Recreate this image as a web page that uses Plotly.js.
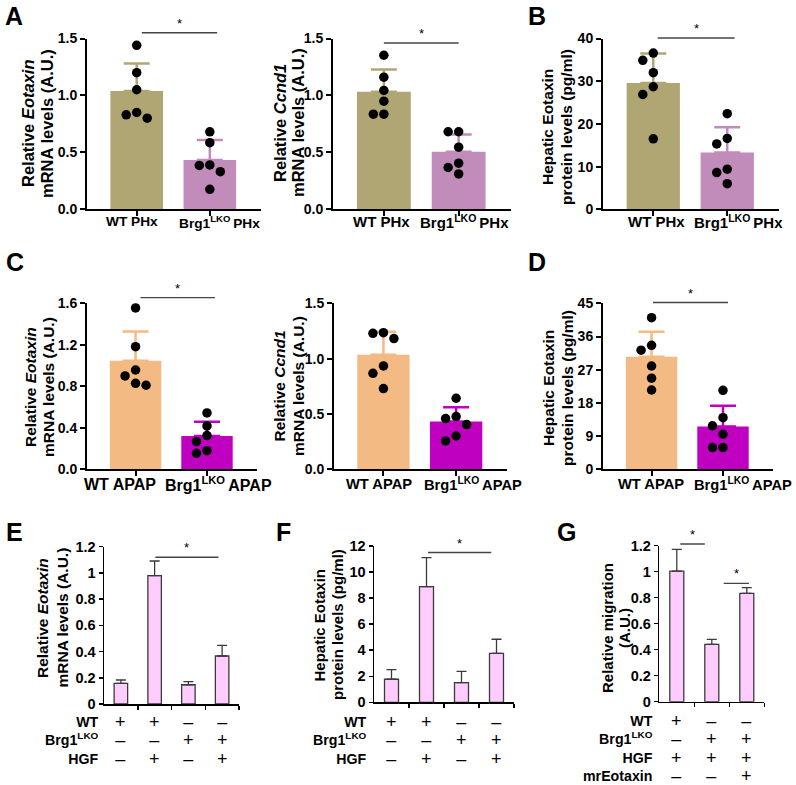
<!DOCTYPE html>
<html>
<head>
<meta charset="utf-8">
<script src="https://cdn.plot.ly/plotly-3.0.1.min.js"></script>
<style>html,body{margin:0;padding:0;background:#fff}#chart{width:796px;height:785px}</style>
</head>
<body>
<div id="chart"></div>
<script>
// ---------------- DATA ----------------
const phxGroups  = ['WT PHx', 'Brg1<sup>LKO</sup>\u2009PHx'];
const apapGroups = ['WT APAP', 'Brg1<sup>LKO</sup>\u2009APAP'];

// A (left) Relative Eotaxin, PHx
const A1_wt = [1.44, 1.20, 1.05, 0.85, 0.80, 0.83];
const A1_ko = [0.68, 0.585, 0.385, 0.39, 0.33, 0.175];
const A1_mean = [1.04, 0.433];
const A1_err  = [0.24, 0.175];
// A (middle) Relative Ccnd1, PHx
const A2_wt = [1.353, 1.16, 1.044, 0.95, 0.835, 0.835];
const A2_ko = [0.681, 0.681, 0.546, 0.405, 0.367, 0.311];
const A2_mean = [1.033, 0.505];
const A2_err  = [0.194, 0.152];
// B Hepatic Eotaxin protein, PHx
const B_wt = [36.6, 34.9, 32.0, 28.7, 26.9, 16.5];
const B_ko = [22.4, 15.3, 16.6, 9.4, 8.6, 6.0];
const B_mean = [29.6, 13.3];
const B_err  = [6.9, 5.9];
// C (left) Relative Eotaxin, APAP
const C1_wt = [1.555, 1.182, 0.957, 0.90, 0.81, 0.829];
const C1_ko = [0.543, 0.418, 0.325, 0.267, 0.18, 0.154];
const C1_mean = [1.047, 0.321];
const C1_err  = [0.28, 0.138];
// C (middle) Relative Ccnd1, APAP
const C2_wt = [1.235, 1.229, 1.181, 0.934, 0.867, 0.729];
const C2_ko = [0.642, 0.458, 0.476, 0.404, 0.301, 0.256];
const C2_mean = [1.036, 0.431];
const C2_err  = [0.208, 0.129];
// D Hepatic Eotaxin protein, APAP
const D_wt = [41.1, 33.6, 32.3, 28.0, 24.7, 21.5];
const D_ko = [21.4, 14.0, 11.8, 9.5, 5.9, 5.9];
const D_mean = [30.5, 11.6];
const D_err  = [6.8, 5.6];
// E Relative Eotaxin mRNA (in vitro)
const E_mean = [0.158, 0.979, 0.147, 0.366];
const E_err  = [0.025, 0.112, 0.023, 0.081];
// F Hepatic Eotaxin protein (in vitro)
const F_mean = [1.77, 8.88, 1.51, 3.76];
const F_err  = [0.74, 2.22, 0.87, 1.08];
// G Relative migration
const G_mean = [1.005, 0.441, 0.833];
const G_err  = [0.167, 0.038, 0.044];

// condition rows (tick-label tables)
const EF_rowLabels = ['WT', 'Brg1<sup>LKO</sup>', 'HGF'];
const EF_WT  = ['+', '+', '–', '–'];
const EF_KO  = ['–', '–', '+', '+'];
const EF_HGF = ['–', '+', '–', '+'];
const G_rowLabels = ['WT', 'Brg1<sup>LKO</sup>', 'HGF', 'mrEotaxin'];
const G_WT  = ['+', '–', '–'];
const G_KO  = ['–', '+', '+'];
const G_HGF = ['+', '+', '+'];
const G_mrE = ['–', '–', '+'];

// axis titles (one entry per line)
const titleEotaxin = ['Relative <i>Eotaxin</i>', 'mRNA levels (A.U.)'];
const titleCcnd1   = ['Relative <i>Ccnd1</i>', 'mRNA levels (A.U.)'];
const titleProtein = ['Hepatic Eotaxin', 'protein levels (pg/ml)'];
const titleMigr    = ['Relative migration', '(A.U.)'];

// significance brackets [x0, x1, y] in data units
const A1_sig = [[0.07, 1.10, 1.55]];
const A2_sig = [[0.0, 1.0, 1.46]];
const B_sig  = [[0.06, 1.10, 40.1]];
const C1_sig = [[0.07, 1.11, 1.655]];
const C2_sig = [];
const D_sig  = [[0.02, 1.07, 45.2]];
const E_sig  = [[1.02, 2.89, 1.119]];
const F_sig  = [[1.04, 2.85, 11.5]];
const G_sig  = [[0.10, 0.80, 1.213], [1.34, 2.06, 0.91]];

const panelLetters = ['A', 'B', 'C', 'D', 'E', 'F', 'G'];

// ---------------- STYLE / LAYOUT ----------------
const W = 796, H = 785;
const FONT = 'Liberation Sans, Arial, Helvetica, sans-serif';
const OLIVE = '#B0A673', MAUVE = '#C18BBA', ORANGE = '#F4BA83', MAGENTA = '#C000C0', PINK = '#FFCCFF';

const px = x => x / W;
const py = y => 1 - y / H;

const dotPanels = [
  {n:1, box:[87,261,38.5,209.3],  yr:[0,1.5], dtick:0.5, fmt:'.1f', cats:phxGroups,  col:[OLIVE,MAUVE],  pts:[A1_wt,A1_ko], mean:A1_mean, err:A1_err, sig:A1_sig,
   title:titleEotaxin, tx:[28,47], ty:124, tsize:16.5, lab:{x:[132,219.7], y:222, size:13.7}},
  {n:2, box:[333,511,38.5,209.3], yr:[0,1.5], dtick:0.5, fmt:'.1f', cats:phxGroups,  col:[OLIVE,MAUVE],  pts:[A2_wt,A2_ko], mean:A2_mean, err:A2_err, sig:A2_sig,
   title:titleCcnd1, tx:[280,298], ty:123, tsize:16.5, lab:{x:[381.5,465], y:222, size:15}},
  {n:3, box:[603,779,38.5,209.3], yr:[0,40], dtick:10, fmt:'d', cats:phxGroups,  col:[OLIVE,MAUVE],  pts:[B_wt,B_ko], mean:B_mean, err:B_err, sig:B_sig,
   title:titleProtein, tx:[548,567], ty:127, tsize:15.5, lab:{x:[656,738.5], y:222, size:15}},
  {n:4, box:[87,257,303.3,469.3], yr:[0,1.6], dtick:0.4, fmt:'.1f', cats:apapGroups, col:[ORANGE,MAGENTA], pts:[C1_wt,C1_ko], mean:C1_mean, err:C1_err, sig:C1_sig,
   title:titleEotaxin, tx:[30,48], ty:387, tsize:15.5, lab:{x:[120,218], y:484, size:16}},
  {n:5, box:[334,507,303.3,469.3], yr:[0,1.5], dtick:0.5, fmt:'.1f', cats:apapGroups, col:[ORANGE,MAGENTA], pts:[C2_wt,C2_ko], mean:C2_mean, err:C2_err, sig:C2_sig,
   title:titleCcnd1, tx:[278.5,298], ty:386, tsize:15.5, lab:{x:[378.7,473.3], y:484, size:14.7}},
  {n:6, box:[603,773,303.3,469.3], yr:[0,45], dtick:9, fmt:'d', cats:apapGroups, col:[ORANGE,MAGENTA], pts:[D_wt,D_ko], mean:D_mean, err:D_err, sig:D_sig,
   title:titleProtein, tx:[548,567], ty:388, tsize:15.5, lab:{x:[651,743.3], y:484, size:14.7}}
];
const XR_AD = [-0.68, 1.7];

const barPanels = [
  {n:7, box:[104,239,546.7,704], yr:[0,1.2], dtick:0.2, mean:E_mean, err:E_err, sig:E_sig,
   title:titleEotaxin, tx:[42,61.5], ty:618, tsize:15.5,
   rows:[EF_WT,EF_KO,EF_HGF], rowLabels:EF_rowLabels, labelX:100, rowsY:740.5},
  {n:8, box:[374,514,546,702.3], yr:[0,12], dtick:2, mean:F_mean, err:F_err, sig:F_sig,
   title:titleProtein, tx:[318.5,337], ty:625, tsize:15,
   rows:[EF_WT,EF_KO,EF_HGF], rowLabels:EF_rowLabels, labelX:368, rowsY:740.5},
  {n:9, box:[659.3,764.3,545.7,701.7], yr:[0,1.2], dtick:0.2, mean:G_mean, err:G_err, sig:G_sig,
   title:titleMigr, tx:[607,624], ty:628, tsize:15,
   rows:[G_WT,G_KO,G_HGF,G_mrE], rowLabels:G_rowLabels, labelX:654, rowsY:748}
];
// [x, y, yanchor]
const letterPos = [[14,1,'top'],[537,1,'top'],[15,262,'middle'],[537,262,'middle'],[14,532,'middle'],[283,532,'middle'],[566,532,'middle']];

const traces = [];
const layout = {
  width: W, height: H, margin:{l:0,r:0,t:0,b:0},
  paper_bgcolor:'#fff', plot_bgcolor:'rgba(0,0,0,0)',
  showlegend:false, barmode:'overlay',
  font:{family:FONT, color:'#000'},
  shapes:[], annotations:[]
};

function yToPaper(p, v) {
  const [x0,x1,yt,yb] = p.box;
  const pix = yb - (v - p.yr[0]) / (p.yr[1] - p.yr[0]) * (yb - yt);
  return py(pix);
}

function swarm(vals, idx, pxPerX, pxPerY, dia, step) {
  const order = vals.map((v,i)=>i).sort((a,b)=>vals[b]-vals[a]);
  const placed = [], xs = new Array(vals.length);
  for (const i of order) {
    const cands = [0];
    for (let k=1;k<8;k++) cands.push(-k*step, k*step);
    for (const c of cands) {
      const ok = placed.every(q => Math.hypot(q.x - c, (q.y - vals[i]) * pxPerY) >= dia);
      if (ok) { placed.push({x:c, y:vals[i]}); xs[i] = idx + c / pxPerX; break; }
    }
  }
  return xs;
}

function addSig(p) {
  const xa = 'x' + p.n;
  p.sig.forEach(s => {
    const yp = yToPaper(p, s[2]);
    layout.shapes.push({type:'line', xref:xa, yref:'paper', x0:s[0], x1:s[1], y0:yp, y1:yp,
      line:{color:'#444', width:1.4}});
    layout.annotations.push({xref:xa, yref:'paper', x:(s[0]+s[1])/2, y:yp + 1/H, text:'*',
      showarrow:false, xanchor:'center', yanchor:'bottom', borderpad:0, font:{size:13, family:FONT, color:'#000'}});
  });
}

function addTitle(p) {
  p.title.forEach((t, i) => {
    layout.annotations.push({xref:'paper', yref:'paper', x:px(p.tx[i]), y:py(p.ty), text:t,
      textangle:-90, showarrow:false, xanchor:'center', yanchor:'middle', borderpad:0,
      font:{family:FONT, size:p.tsize, weight:'bold', color:'#000'}});
  });
}

function axisCommon(lw) {
  return {showline:true, linecolor:'#000', linewidth:lw, ticks:'outside', tickcolor:'#000',
          tickwidth:lw, showgrid:false, zeroline:false, fixedrange:true};
}

dotPanels.forEach(p => {
  const xa = 'x' + p.n, ya = 'y' + p.n;
  const [x0,x1,yt,yb] = p.box;
  layout['xaxis' + p.n] = Object.assign(axisCommon(2), {
    domain:[px(x0), px(x1)], range:XR_AD, anchor:ya, ticklen:5,
    tickvals:[0,1], showticklabels:false
  });
  layout['yaxis' + p.n] = Object.assign(axisCommon(2), {
    domain:[py(yb), py(yt)], range:p.yr, anchor:xa, ticklen:5, dtick:p.dtick, tick0:0,
    tickformat:p.fmt, tickfont:{family:FONT, size:14, weight:'bold', color:'#000'}
  });
  const pxPerX = (x1 - x0) / (XR_AD[1] - XR_AD[0]);
  const pxPerY = (yb - yt) / (p.yr[1] - p.yr[0]);
  [0,1].forEach(g => {
    traces.push({type:'bar', xaxis:xa, yaxis:ya, x:[g], y:[p.mean[g]], width:0.72,
      marker:{color:p.col[g], line:{width:0}},
      error_y:{type:'data', array:[p.err[g]], arrayminus:[0], symmetric:false, color:p.col[g], thickness:2.5, width:13},
      hoverinfo:'skip'});
  });
  [0,1].forEach(g => {
    traces.push({type:'scatter', mode:'markers', xaxis:xa, yaxis:ya,
      x: swarm(p.pts[g], g, pxPerX, pxPerY, 9.5, 10.5), y:p.pts[g],
      marker:{color:'#000', size:9.5}, cliponaxis:false, hoverinfo:'skip'});
  });
  p.cats.forEach((c, g) => {
    layout.annotations.push({xref:'paper', yref:'paper', x:px(p.lab.x[g]), y:py(p.lab.y), text:c,
      showarrow:false, xanchor:'center', yanchor:'middle', borderpad:0,
      font:{family:FONT, size:p.lab.size, weight:'bold', color:'#000'}});
  });
  addSig(p);
  addTitle(p);
});

const signText = s => '<span style="font-size:18px">' + s + '</span>';

barPanels.forEach(p => {
  const xa = 'x' + p.n, ya = 'y' + p.n;
  const [x0,x1,yt,yb] = p.box;
  const nCat = p.mean.length;
  const cats = p.mean.map((v,i)=>i);
  layout['xaxis' + p.n] = Object.assign(axisCommon(1.5), {
    domain:[px(x0), px(x1)], range:[-0.5, nCat - 0.5], anchor:ya, ticklen:4,
    tickvals:cats.map(i => i + 0.5), showticklabels:false
  });
  layout['yaxis' + p.n] = Object.assign(axisCommon(1.5), {
    domain:[py(yb), py(yt)], range:p.yr, anchor:xa, ticklen:4, dtick:p.dtick, tick0:0,
    tickfont:{family:FONT, size:14.5, weight:'bold', color:'#000'}
  });
  traces.push({type:'bar', xaxis:xa, yaxis:ya, x:cats, y:p.mean, width:0.4,
    marker:{color:PINK, line:{color:'#3a3a3a', width:1.3}},
    error_y:{type:'data', array:p.err, arrayminus:p.err.map(()=>0), symmetric:false, color:'#3a3a3a', thickness:1.3, width:5},
    hoverinfo:'skip'});
  addSig(p);
  addTitle(p);
  layout.annotations.push({xref:'paper', yref:'paper', x:px(p.labelX), y:py(p.rowsY), text:p.rowLabels.join('<br>'),
    showarrow:false, xanchor:'right', yanchor:'middle', align:'right', borderpad:0,
    font:{family:FONT, size:14.2, weight:'bold', color:'#000'}});
  cats.forEach(i => {
    layout.annotations.push({xref:xa, yref:'paper', x:i, y:py(p.rowsY), text:p.rows.map(r => signText(r[i])).join('<br>'),
      showarrow:false, xanchor:'center', yanchor:'middle', align:'center', borderpad:0,
      font:{family:FONT, size:14.2, color:'#000'}});
  });
});

panelLetters.forEach((L, i) => {
  const [lx, ly, anc] = letterPos[i];
  layout.annotations.push({xref:'paper', yref:'paper', x:px(lx), y:py(ly), text:L,
    showarrow:false, xanchor:'center', yanchor:anc, borderpad:0, font:{family:FONT, size:25, weight:'bold', color:'#000'}});
});

Plotly.newPlot('chart', traces, layout, {staticPlot:true, displayModeBar:false});
</script>
</body>
</html>
